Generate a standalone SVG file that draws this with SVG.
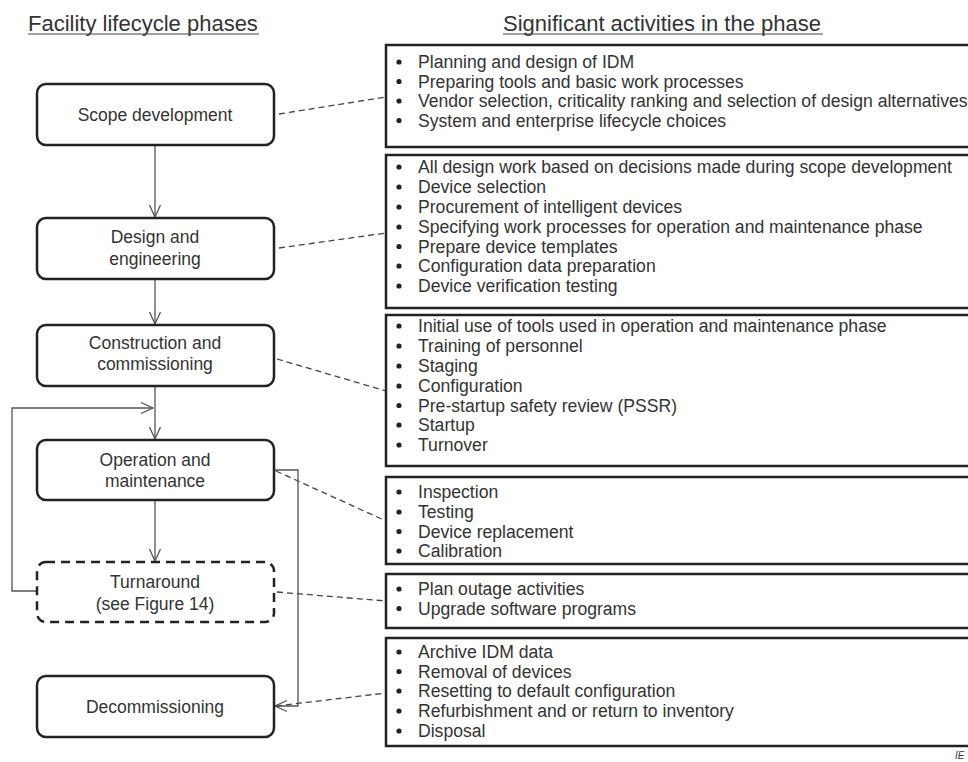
<svg xmlns="http://www.w3.org/2000/svg" width="968" height="762" viewBox="0 0 968 762">
<style>
text{font-family:"Liberation Sans",Arial,sans-serif;fill:#333}
.h{font-size:22px}
.n{font-size:17.5px;text-anchor:middle}
.b{font-size:17.6px}
.node{fill:#fff;stroke:#222;stroke-width:2.5}
.dash{stroke-dasharray:9 6}
.list{fill:#fff;stroke:#222;stroke-width:2.5}
.flow{fill:none;stroke:#555;stroke-width:1.3}
.lead{fill:none;stroke:#444;stroke-width:1.3;stroke-dasharray:6 4}
.dot{fill:#222}
</style>
<defs>
<marker id="ah" viewBox="0 0 14 14" refX="13" refY="7" markerWidth="14" markerHeight="14" markerUnits="userSpaceOnUse" orient="auto">
<path d="M1,1.5 L13,7 L1,12.5" fill="none" stroke="#555" stroke-width="1.3"/>
</marker>
</defs>
<rect width="968" height="762" fill="#fff"/>
<g id="headers">
<text class="h" x="28" y="31">Facility lifecycle phases</text>
<line x1="28" y1="34" x2="259" y2="34" stroke="#444" stroke-width="1.2"/>
<text class="h" x="503" y="31">Significant activities in the phase</text>
<line x1="503" y1="34" x2="823" y2="34" stroke="#444" stroke-width="1.2"/>
</g>
<g id="connectors">
<line class="flow" x1="155" y1="145" x2="155" y2="217" marker-end="url(#ah)"/>
<line class="flow" x1="155" y1="279" x2="155" y2="324" marker-end="url(#ah)"/>
<line class="flow" x1="155" y1="386" x2="155" y2="439" marker-end="url(#ah)"/>
<line class="flow" x1="155" y1="500" x2="155" y2="561" marker-end="url(#ah)"/>
<polyline class="flow" points="37,591 12,591 12,408 153,408" marker-end="url(#ah)"/>
<polyline class="flow" points="274,470 298,470 298,706 275,706" marker-end="url(#ah)"/>
<line class="lead" x1="279" y1="114" x2="386" y2="97"/>
<line class="lead" x1="279" y1="248" x2="386" y2="233"/>
<line class="lead" x1="277" y1="359" x2="386" y2="391"/>
<line class="lead" x1="276" y1="471" x2="386" y2="521"/>
<line class="lead" x1="277" y1="592" x2="386" y2="601"/>
<line class="lead" x1="276" y1="706" x2="386" y2="693"/>
</g>
<g id="scope">
<rect class="node" x="37" y="84" width="237" height="61" rx="9"/>
<text class="n" x="155" y="121">Scope development</text>
</g>
<g id="design">
<rect class="node" x="37" y="218" width="237" height="61" rx="9"/>
<text class="n" x="155" y="243">Design and</text>
<text class="n" x="155" y="265">engineering</text>
</g>
<g id="construction">
<rect class="node" x="37" y="325" width="237" height="61" rx="9"/>
<text class="n" x="155" y="349">Construction and</text>
<text class="n" x="155" y="370">commissioning</text>
</g>
<g id="operation">
<rect class="node" x="37" y="440" width="237" height="60" rx="9"/>
<text class="n" x="155" y="466">Operation and</text>
<text class="n" x="155" y="487">maintenance</text>
</g>
<g id="turnaround">
<rect class="node dash" x="37" y="562" width="237" height="60" rx="9"/>
<text class="n" x="155" y="588">Turnaround</text>
<text class="n" x="155" y="610">(see Figure 14)</text>
</g>
<g id="decommissioning">
<rect class="node" x="37" y="676" width="237" height="61" rx="9"/>
<text class="n" x="155" y="713">Decommissioning</text>
</g>
<g id="act-scope">
<rect class="list" x="386" y="45" width="600" height="102"/>
<circle class="dot" cx="399" cy="62" r="2.6"/><text class="b" x="418" y="68">Planning and design of IDM</text>
<circle class="dot" cx="399" cy="81.5" r="2.6"/><text class="b" x="418" y="87.5">Preparing tools and basic work processes</text>
<circle class="dot" cx="399" cy="101" r="2.6"/><text class="b" x="418" y="107">Vendor selection, criticality ranking and selection of design alternatives</text>
<circle class="dot" cx="399" cy="120.5" r="2.6"/><text class="b" x="418" y="126.5">System and enterprise lifecycle choices</text>
</g>
<g id="act-design">
<rect class="list" x="386" y="155" width="600" height="153"/>
<circle class="dot" cx="399" cy="167" r="2.6"/><text class="b" x="418" y="173">All design work based on decisions made during scope development</text>
<circle class="dot" cx="399" cy="187" r="2.6"/><text class="b" x="418" y="193">Device selection</text>
<circle class="dot" cx="399" cy="207" r="2.6"/><text class="b" x="418" y="213">Procurement of intelligent devices</text>
<circle class="dot" cx="399" cy="227" r="2.6"/><text class="b" x="418" y="233">Specifying work processes for operation and maintenance phase</text>
<circle class="dot" cx="399" cy="246.5" r="2.6"/><text class="b" x="418" y="252.5">Prepare device templates</text>
<circle class="dot" cx="399" cy="266" r="2.6"/><text class="b" x="418" y="272">Configuration data preparation</text>
<circle class="dot" cx="399" cy="286" r="2.6"/><text class="b" x="418" y="292">Device verification testing</text>
</g>
<g id="act-construction">
<rect class="list" x="386" y="315" width="600" height="151"/>
<circle class="dot" cx="399" cy="326" r="2.6"/><text class="b" x="418" y="332">Initial use of tools used in operation and maintenance phase</text>
<circle class="dot" cx="399" cy="346" r="2.6"/><text class="b" x="418" y="352">Training of personnel</text>
<circle class="dot" cx="399" cy="366" r="2.6"/><text class="b" x="418" y="372">Staging</text>
<circle class="dot" cx="399" cy="386" r="2.6"/><text class="b" x="418" y="392">Configuration</text>
<circle class="dot" cx="399" cy="405.5" r="2.6"/><text class="b" x="418" y="411.5">Pre-startup safety review (PSSR)</text>
<circle class="dot" cx="399" cy="425" r="2.6"/><text class="b" x="418" y="431">Startup</text>
<circle class="dot" cx="399" cy="445" r="2.6"/><text class="b" x="418" y="451">Turnover</text>
</g>
<g id="act-operation">
<rect class="list" x="386" y="477" width="600" height="87"/>
<circle class="dot" cx="399" cy="492" r="2.6"/><text class="b" x="418" y="498">Inspection</text>
<circle class="dot" cx="399" cy="512" r="2.6"/><text class="b" x="418" y="518">Testing</text>
<circle class="dot" cx="399" cy="531.5" r="2.6"/><text class="b" x="418" y="537.5">Device replacement</text>
<circle class="dot" cx="399" cy="551" r="2.6"/><text class="b" x="418" y="557">Calibration</text>
</g>
<g id="act-turnaround">
<rect class="list" x="386" y="574" width="600" height="54"/>
<circle class="dot" cx="399" cy="589" r="2.6"/><text class="b" x="418" y="595">Plan outage activities</text>
<circle class="dot" cx="399" cy="608.5" r="2.6"/><text class="b" x="418" y="614.5">Upgrade software programs</text>
</g>
<g id="act-decommissioning">
<rect class="list" x="386" y="638" width="600" height="108"/>
<circle class="dot" cx="399" cy="652" r="2.6"/><text class="b" x="418" y="658">Archive IDM data</text>
<circle class="dot" cx="399" cy="671.5" r="2.6"/><text class="b" x="418" y="677.5">Removal of devices</text>
<circle class="dot" cx="399" cy="691" r="2.6"/><text class="b" x="418" y="697">Resetting to default configuration</text>
<circle class="dot" cx="399" cy="711" r="2.6"/><text class="b" x="418" y="717">Refurbishment and or return to inventory</text>
<circle class="dot" cx="399" cy="731" r="2.6"/><text class="b" x="418" y="737">Disposal</text>
</g>
<text x="955" y="759" style="font-size:10px;font-style:italic">IE</text>
</svg>
